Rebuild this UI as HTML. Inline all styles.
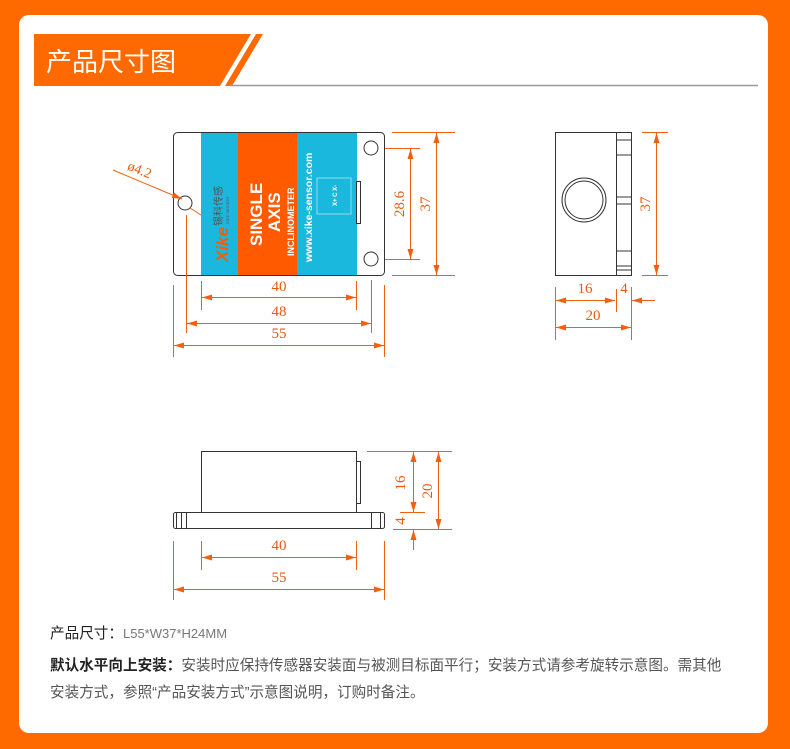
<!DOCTYPE html>
<html><head><meta charset="utf-8"><style>
html,body{margin:0;padding:0;background:#ff6a00;}
body{width:790px;height:749px;position:relative;overflow:hidden;font-family:"Liberation Sans","Noto Sans CJK SC",sans-serif;}
.panel{position:absolute;left:19px;top:15px;width:749px;height:718px;background:#fff;border-radius:10px;}
.t{position:absolute;left:50px;color:#555;font-size:14.6px;white-space:nowrap;font-family:"Liberation Sans","Noto Sans CJK SC",sans-serif;}
.t b{color:#222;}
</style></head><body>
<div class="panel"></div>
<svg width="790" height="749" style="position:absolute;left:0;top:0" xmlns="http://www.w3.org/2000/svg">
<defs>
<marker id="a" viewBox="0 0 10 6" refX="10" refY="3" markerWidth="10" markerHeight="6" orient="auto-start-reverse" markerUnits="userSpaceOnUse"><path d="M0,0L10,3L0,6z" fill="#f06010"/></marker>
</defs>
<polygon points="34,34 251,34 220,86 34,86" fill="#ff6a00"/>
<polygon points="256,34 263,34 232,86 225,86" fill="#ff6a00"/>
<line x1="230" y1="85.5" x2="758" y2="85.5" stroke="#999" stroke-width="1.5"/>
<text x="46" y="71" font-size="26" fill="#fff" font-family="Liberation Sans,Noto Sans CJK SC,sans-serif">产品尺寸图</text>

<g stroke="#333" stroke-width="1" fill="none">
<rect x="173.5" y="132.5" width="211" height="143" rx="4" fill="#fff"/>
</g>
<rect x="201" y="133" width="156" height="142" fill="#1ab8dc"/>
<rect x="238" y="133" width="59" height="142" fill="#ff5a00"/>
<rect x="317" y="178" width="34" height="36" fill="none" stroke="#8ddcee" stroke-width="1"/>
<g stroke="#333" fill="#fff">
<rect x="356.5" y="181.5" width="4" height="42"/>
<circle cx="185" cy="203" r="7"/>
<circle cx="371" cy="148" r="7"/>
<circle cx="371" cy="259" r="7"/>
</g>
<g fill="#fff" font-family="Liberation Sans,sans-serif" font-weight="bold">
<text transform="translate(262,246) rotate(-90)" font-size="17">SINGLE</text>
<text transform="translate(280,232) rotate(-90)" font-size="17">AXIS</text>
<text transform="translate(294,256) rotate(-90)" font-size="9">INCLINOMETER</text>
<text transform="translate(312,262) rotate(-90)" font-size="10.5">www.xike-sensor.com</text>
<text transform="translate(337,206) rotate(-90)" font-size="6">X+  C  X-</text>
</g>
<text transform="translate(228,262) rotate(-90)" font-size="17" font-weight="bold" font-style="italic" fill="#ff5a00" font-family="Liberation Sans,sans-serif">Xike</text>
<text transform="translate(222,226) rotate(-90)" font-size="10" fill="#555" font-family="Noto Sans CJK SC,sans-serif">锡科传感</text>
<text transform="translate(229,224) rotate(-90)" font-size="4" fill="#555">XIKE SENSOR</text>

<g stroke="#333" fill="none">
<rect x="555.5" y="132.5" width="76" height="143"/>
<line x1="616.5" y1="133" x2="616.5" y2="275"/>
<line x1="617" y1="140" x2="631" y2="140"/><line x1="617" y1="155" x2="631" y2="155"/>
<line x1="617" y1="197" x2="631" y2="197"/><line x1="617" y1="204" x2="631" y2="204"/>
<line x1="617" y1="251" x2="631" y2="251"/><line x1="617" y1="266" x2="631" y2="266"/><line x1="617" y1="270" x2="631" y2="270"/>
<circle cx="584" cy="200" r="22"/><circle cx="584" cy="200" r="19"/>
</g>

<g stroke="#333" fill="none">
<rect x="201.5" y="451.5" width="155" height="61"/>
<rect x="356.5" y="461.5" width="4" height="42"/>
<rect x="173.5" y="512.5" width="211" height="16" rx="2"/>
<line x1="176.5" y1="513" x2="176.5" y2="528"/><line x1="181.5" y1="513" x2="181.5" y2="528"/><line x1="186.5" y1="513" x2="186.5" y2="528"/>
<line x1="371.5" y1="513" x2="371.5" y2="528"/><line x1="380.5" y1="513" x2="380.5" y2="528"/>
</g>

<g stroke="#f06010" stroke-width="1" fill="none">
<line x1="113" y1="170" x2="182" y2="199" marker-end="url(#a)"/>
<line x1="190" y1="208" x2="201" y2="215"/>
<line x1="392" y1="132.5" x2="455" y2="132.5"/><line x1="392" y1="275.5" x2="455" y2="275.5"/>
<line x1="436.5" y1="133" x2="436.5" y2="275" marker-start="url(#a)" marker-end="url(#a)"/>
<line x1="385" y1="148.5" x2="420" y2="148.5"/><line x1="385" y1="259.5" x2="420" y2="259.5"/>
<line x1="410.5" y1="149" x2="410.5" y2="259" marker-start="url(#a)" marker-end="url(#a)"/>
<line x1="201.5" y1="281" x2="201.5" y2="310"/><line x1="356.5" y1="281" x2="356.5" y2="310"/>
<line x1="202" y1="297.5" x2="356" y2="297.5" marker-start="url(#a)" marker-end="url(#a)"/>
<line x1="186.5" y1="215" x2="186.5" y2="333"/><line x1="371.5" y1="280" x2="371.5" y2="333"/>
<line x1="187" y1="323.5" x2="371" y2="323.5" marker-start="url(#a)" marker-end="url(#a)"/>
<line x1="173.5" y1="285" x2="173.5" y2="357"/><line x1="384.5" y1="285" x2="384.5" y2="357"/>
<line x1="174" y1="345.5" x2="384" y2="345.5" marker-start="url(#a)" marker-end="url(#a)"/>
<line x1="642" y1="132.5" x2="668" y2="132.5"/><line x1="642" y1="275.5" x2="668" y2="275.5"/>
<line x1="656.5" y1="133" x2="656.5" y2="275" marker-start="url(#a)" marker-end="url(#a)"/>
<line x1="555.5" y1="287" x2="555.5" y2="340"/><line x1="616.5" y1="289" x2="616.5" y2="312"/><line x1="631.5" y1="287" x2="631.5" y2="340"/>
<line x1="556" y1="300.5" x2="615" y2="300.5" marker-start="url(#a)" marker-end="url(#a)"/>
<line x1="655" y1="300.5" x2="632" y2="300.5" marker-end="url(#a)"/>
<line x1="556" y1="327.5" x2="631" y2="327.5" marker-start="url(#a)" marker-end="url(#a)"/>
<line x1="367" y1="451.5" x2="452" y2="451.5"/><line x1="393" y1="529.5" x2="452" y2="529.5"/>
<line x1="400" y1="512.5" x2="425" y2="512.5"/>
<line x1="413.5" y1="452" x2="413.5" y2="512" marker-start="url(#a)" marker-end="url(#a)"/>
<line x1="413.5" y1="550" x2="413.5" y2="530" marker-end="url(#a)"/>
<line x1="438.5" y1="452" x2="438.5" y2="529" marker-start="url(#a)" marker-end="url(#a)"/>
<line x1="201.5" y1="541" x2="201.5" y2="570"/><line x1="356.5" y1="541" x2="356.5" y2="570"/>
<line x1="202" y1="557.5" x2="356" y2="557.5" marker-start="url(#a)" marker-end="url(#a)"/>
<line x1="173.5" y1="541" x2="173.5" y2="600"/><line x1="384.5" y1="541" x2="384.5" y2="600"/>
<line x1="174" y1="589.5" x2="384" y2="589.5" marker-start="url(#a)" marker-end="url(#a)"/>
</g>
<g fill="#e85a10" font-family="Liberation Serif,serif" font-size="15" text-anchor="middle">
<text transform="translate(138,174) rotate(22)" font-size="14">ø4.2</text>
<text transform="translate(430,204) rotate(-90)">37</text>
<text transform="translate(404,204) rotate(-90)">28.6</text>
<text x="279" y="291">40</text>
<text x="279" y="316">48</text>
<text x="279" y="338">55</text>
<text transform="translate(650,204) rotate(-90)">37</text>
<text x="585" y="293">16</text>
<text x="624" y="293">4</text>
<text x="593" y="320">20</text>
<text transform="translate(405,483) rotate(-90)">16</text>
<text transform="translate(405,521) rotate(-90)">4</text>
<text transform="translate(432,491) rotate(-90)">20</text>
<text x="279" y="550">40</text>
<text x="279" y="582">55</text>
</g>
</svg>
<div class="t" style="top:622px;"><span style="color:#222">产品尺寸：</span><span style="font-family:'Liberation Sans Narrow','Liberation Sans',sans-serif;color:#777;font-size:13px">L55*W37*H24MM</span></div>
<div class="t" style="top:654px;"><b>默认水平向上安装：</b>安装时应保持传感器安装面与被测目标面平行；安装方式请参考旋转示意图。需其他</div>
<div class="t" style="top:681px;">安装方式，参照“产品安装方式”示意图说明，订购时备注。</div>
</body></html>
